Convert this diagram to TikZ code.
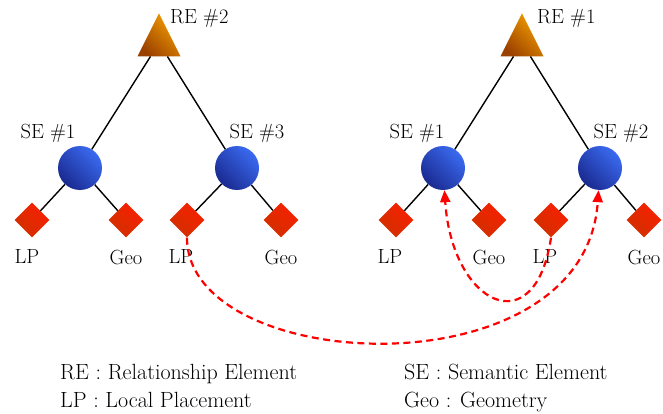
\documentclass[tikz,border=0pt]{standalone}
\usepackage{fontspec}
\usetikzlibrary{positioning,shapes.geometric,arrows.meta}
\definecolor{relorange}{HTML}{F5A000}
\definecolor{reldark}{HTML}{9A4000}
\definecolor{semblue}{HTML}{3A6AF0}
\definecolor{semdark}{HTML}{1A2A90}
\definecolor{leafred}{HTML}{F82000}
\definecolor{leafdark}{HTML}{D03000}
\definecolor{linkred}{HTML}{FF0000}

\begin{document}
\begin{tikzpicture}[x=1pt,y=-1pt,
  re node/.style={isosceles triangle, shape border rotate=90, isosceles triangle stretches,
    minimum width=43pt, minimum height=43pt, inner sep=0pt,
    left color=reldark, right color=relorange, shading angle=135},
  se node/.style={circle, minimum size=44pt, inner sep=0pt,
    left color=semdark, right color=semblue, shading angle=135},
  leaf node/.style={diamond, minimum size=35pt, inner sep=0pt,
    left color=leafdark, right color=leafred, shading angle=135},
  tree/.style={draw=black, line width=1.4pt},
  link/.style={linkred, line width=2.2pt, dash pattern=on 7pt off 4.5pt,
    -{Triangle[length=12pt,width=10pt]}},
  legend/.style={anchor=base west, inner sep=0pt, font=\fontsize{22}{26}\selectfont}]
        \tikzstyle{every node}=[font=\fontsize{20.5}{24}\selectfont]
        \useasboundingbox (0,0) rectangle (663,414);

          % left tree
          \node[re node] (re2) at (159,43) {};
          \node[se node] (se1a) at (80,168) {};
          \node[se node] (se3a) at (237,168) {};
          \node[leaf node] (lp1a) at (32,220) {};
          \node[leaf node] (geo1a) at (126,220) {};
          \node[leaf node] (lp3a) at (187,220) {};
          \node[leaf node] (geo3a) at (281,220) {};

          \node[inner sep=0pt] (re2t) [right=11pt of re2.apex, yshift=-6pt] {RE \#2};
          \node[inner sep=0pt] (se1at) [above=3pt of se1a, xshift=-32pt] {SE \#1};
          \node[inner sep=0pt] (se3at) [above=3pt of se3a, xshift=20pt] {SE \#3};
          \node[inner sep=0pt] (lp1at) [below=12pt of lp1a, xshift=-5pt] {LP};
          \node[inner sep=0pt] (geo1at) [below=12pt of geo1a] {Geo};
          \node[inner sep=0pt] (lp3at) [below=12pt of lp3a, xshift=-6pt] {LP};
          \node[inner sep=0pt] (geo3at) [below=12pt of geo3a] {Geo};

          % right tree
          \node[re node] (re1) at (522,43) {};
          \node[se node] (se1b) at (443,168) {};
          \node[se node] (se2b) at (600,168) {};
          \node[leaf node] (lp1b) at (396,220) {};
          \node[leaf node] (geo1b) at (489,220) {};
          \node[leaf node] (lp2b) at (551,220) {};
          \node[leaf node] (geo2b) at (644,220) {};

          \node[inner sep=0pt] (re1t) [right=15pt of re1.apex, yshift=-6pt] {RE \#1};
          \node[inner sep=0pt] (se1bt) [above=3pt of se1b, xshift=-26pt] {SE \#1};
          \node[inner sep=0pt] (se2bt) [above=3pt of se2b, xshift=21pt] {SE \#2};
          \node[inner sep=0pt] (lp1bt) [below=12pt of lp1b, xshift=-6pt] {LP};
          \node[inner sep=0pt] (geo1bt) [below=12pt of geo1b] {Geo};
          \node[inner sep=0pt] (lp2bt) [below=12pt of lp2b, xshift=-6pt] {LP};
          \node[inner sep=0pt] (geo2bt) [below=12pt of geo2b] {Geo};

          \path (re2) edge[tree] (se1a)
                      edge[tree] (se3a)
                (se1a) edge[tree] (lp1a)
                       edge[tree] (geo1a)
                (se3a) edge[tree] (lp3a)
                       edge[tree] (geo3a);
          \path (re1) edge[tree] (se1b)
                      edge[tree] (se2b)
                (se1b) edge[tree] (lp1b)
                       edge[tree] (geo1b)
                (se2b) edge[tree] (lp2b)
                       edge[tree] (geo2b);

          % links
          \draw[link] (lp3a.south) .. controls (187,375) and (585,395) .. (se2b);
          \draw[link] (lp2b.south) .. controls (535,345) and (452,305) .. (se1b);

          % legend
          \node[legend] (lgre) at (60,379) {RE : Relationship Element};
          \node[legend] (lglp) at (60,407) {LP : Local Placement};
          \node[legend] (lgse) at (404,379) {SE : Semantic Element};
          \node[legend] (lggeo) at (404,407) {Geo : Geometry};

        \end{tikzpicture}
\end{document}
